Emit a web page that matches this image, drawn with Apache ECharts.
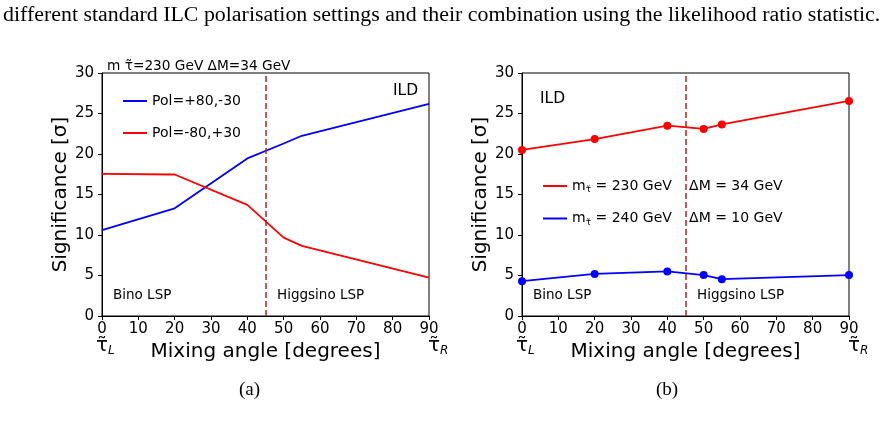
<!DOCTYPE html>
<html><head><meta charset="utf-8">
<script src="https://cdn.jsdelivr.net/npm/echarts@6/dist/echarts.min.js"></script>
<style>html,body{margin:0;padding:0;background:#fff}#c{width:885px;height:427px}</style>
</head><body><div id="c"></div>
<script>
// Mixing angles (degrees) at which significance was evaluated
const angles = [0, 20, 40, 50, 55, 90];
// Panel (a): m_stau = 230 GeV, dM = 34 GeV
const polPlus80Minus30 = [10.6, 13.3, 19.45, 21.3, 22.25, 26.2];
const polMinus80Plus30 = [17.55, 17.47, 13.72, 9.68, 8.65, 4.74];
// Panel (b)
const m230dM34 = [20.5, 21.85, 23.5, 23.1, 23.65, 26.55];
const m240dM10 = [4.3, 5.2, 5.5, 5.05, 4.55, 5.05];
const boundaryAngle = 45;
const xMin = 0, xMax = 90, xStep = 10;
const yMin = 0, yMax = 30, yStep = 5;

const FONT = '"DejaVu Sans", sans-serif';
const SERIF = '"Liberation Serif", "Times New Roman", serif';
const pairs = v => angles.map((a, i) => [a, v[i]]);

const chart = echarts.init(document.getElementById('c'), null, {renderer: 'canvas'});

function xAx(gi) {
  return {
    type: 'value', gridIndex: gi, min: xMin, max: xMax, interval: xStep,
    name: 'Mixing angle [degrees]', nameLocation: 'middle', nameGap: 24,
    nameTextStyle: {fontFamily: FONT, fontSize: 20, color: '#000'},
    axisLine: {show: true, lineStyle: {color: '#000', width: 1}},
    axisTick: {show: true, inside: false, length: 4, lineStyle: {color: '#000'}},
    axisLabel: {fontFamily: FONT, fontSize: 15, color: '#000', margin: 6},
    splitLine: {show: false}
  };
}
function yAx(gi) {
  return {
    type: 'value', gridIndex: gi, min: yMin, max: yMax, interval: yStep,
    name: 'Significance [σ]', nameLocation: 'middle', nameGap: 31, nameRotate: 90,
    nameTextStyle: {fontFamily: FONT, fontSize: 20, color: '#000'},
    axisLine: {show: true, lineStyle: {color: '#000', width: 1}},
    axisTick: {show: true, inside: false, length: 4, lineStyle: {color: '#000'}},
    axisLabel: {fontFamily: FONT, fontSize: 15, color: '#000', margin: 8},
    splitLine: {show: false}
  };
}
const boundary = {
  silent: true, symbol: ['none', 'none'], label: {show: false},
  lineStyle: {color: '#b22222', type: [6, 3], width: 1.5},
  data: [{xAxis: boundaryAngle}]
};
const legendRich = {
  a: {fontFamily: FONT, fontSize: 14, color: '#000'},
  s: {fontFamily: FONT, fontSize: 9, color: '#000', padding: [8, 0, 0, 0]},
  b: {fontFamily: FONT, fontSize: 14, color: '#000', width: 98},
  c: {fontFamily: FONT, fontSize: 14, color: '#000'}
};
const nameMap = {
  'm230': '{a|m}{s|τ̃}{b| = 230 GeV}{c|ΔM = 34 GeV}',
  'm240': '{a|m}{s|τ̃}{b| = 240 GeV}{c|ΔM = 10 GeV}'
};

function txt(text, left, top, size, family, extra) {
  return Object.assign({type: 'text', left: left, top: top, silent: true,
    style: {text: text, font: size + 'px ' + (family || FONT), fill: '#000'}}, extra || {});
}
function tauLabel(sub, left, top) {
  return {type: 'text', left: left, top: top, silent: true,
    style: {text: '{t|τ̃}{l|' + sub + '}', rich: {
      t: {fontFamily: FONT, fontSize: 20, color: '#000'},
      l: {fontFamily: FONT, fontSize: 12, fontStyle: 'italic', color: '#000', padding: [9, 0, 0, 0]}
    }}};
}

chart.setOption({
  animation: false,
  backgroundColor: '#fff',
  grid: [
    {left: 102, top: 73, width: 327, height: 243, show: true, borderColor: '#000', borderWidth: 1, backgroundColor: 'transparent'},
    {left: 522, top: 73, width: 327, height: 243, show: true, borderColor: '#000', borderWidth: 1, backgroundColor: 'transparent'}
  ],
  xAxis: [xAx(0), xAx(1)],
  yAxis: [yAx(0), yAx(1)],
  legend: [
    {data: ['Pol=+80,-30', 'Pol=-80,+30'], orient: 'vertical', left: 123, top: 93, padding: 0,
     icon: 'rect', itemWidth: 24, itemHeight: 2, itemGap: 16,
     textStyle: {fontFamily: FONT, fontSize: 14, color: '#000', lineHeight: 16}},
    {data: ['m230', 'm240'], orient: 'vertical', left: 543, top: 178, padding: 0,
     icon: 'rect', itemWidth: 24, itemHeight: 2, itemGap: 16,
     formatter: n => nameMap[n],
     textStyle: {fontFamily: FONT, fontSize: 14, color: '#000', lineHeight: 16, rich: legendRich}}
  ],
  series: [
    {name: 'Pol=+80,-30', type: 'line', xAxisIndex: 0, yAxisIndex: 0, data: pairs(polPlus80Minus30),
     showSymbol: false, symbol: 'none', lineStyle: {color: '#0000ff', width: 1.8}, itemStyle: {color: '#0000ff'},
     markLine: boundary, z: 3},
    {name: 'Pol=-80,+30', type: 'line', xAxisIndex: 0, yAxisIndex: 0, data: pairs(polMinus80Plus30),
     showSymbol: false, symbol: 'none', lineStyle: {color: '#ff0000', width: 1.8}, itemStyle: {color: '#ff0000'}, z: 3},
    {name: 'm230', type: 'line', xAxisIndex: 1, yAxisIndex: 1, data: pairs(m230dM34),
     symbol: 'circle', symbolSize: 8, lineStyle: {color: '#ff0000', width: 1.8}, itemStyle: {color: '#ff0000'},
     markLine: boundary, z: 3},
    {name: 'm240', type: 'line', xAxisIndex: 1, yAxisIndex: 1, data: pairs(m240dM10),
     symbol: 'circle', symbolSize: 8, lineStyle: {color: '#0000ff', width: 1.8}, itemStyle: {color: '#0000ff'}, z: 3}
  ],
  graphic: [
    txt('different standard ILC polarisation settings and their combination using the likelihood ratio statistic.', 3, 6, 20, SERIF, {scaleX: 1.095}),
    txt('m τ̃=230 GeV ΔM=34 GeV', 107, 59, 13.7),
    txt('ILD', 393, 83, 15.5),
    txt('ILD', 540, 91, 15.5),
    txt('Bino LSP', 113, 288, 13.5),
    txt('Higgsino LSP', 277, 288, 13.5),
    txt('Bino LSP', 533, 288, 13.5),
    txt('Higgsino LSP', 697, 288, 13.5),
    tauLabel('L', 96, 336),
    tauLabel('R', 428, 336),
    tauLabel('L', 516, 336),
    tauLabel('R', 848, 336),
    txt('(a)', 239, 381, 19, SERIF),
    txt('(b)', 656, 381, 19, SERIF)
  ]
});
</script>
</body></html>
